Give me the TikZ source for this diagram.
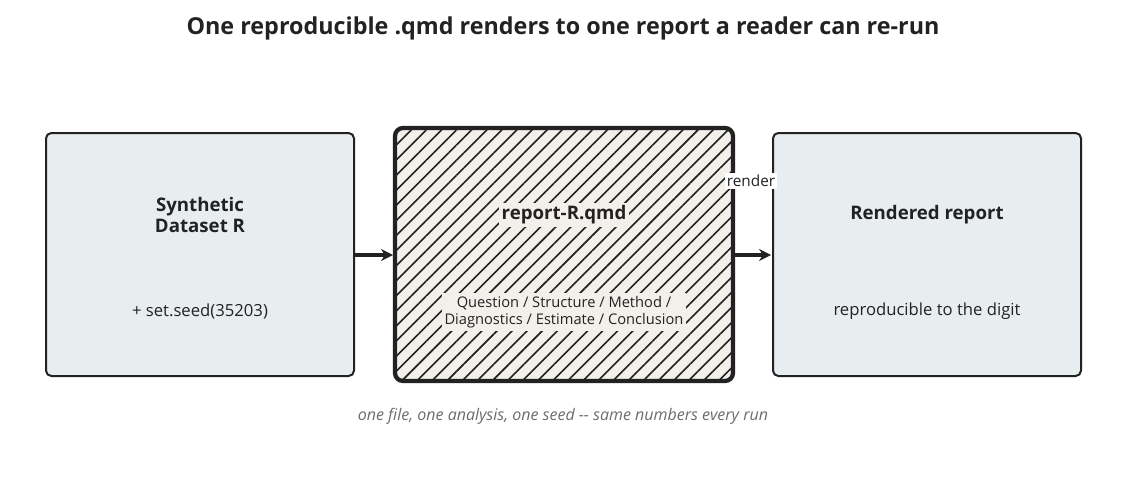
\documentclass[tikz,border=0pt]{standalone}
\usepackage{fontspec}
\setmainfont{Open Sans}
\usetikzlibrary{patterns.meta,arrows.meta}
\definecolor{boxfill}{HTML}{E8EDF0}
\definecolor{beige}{HTML}{F3EFEA}
\definecolor{ink}{HTML}{222222}
\begin{document}
\begin{tikzpicture}[x=0.75pt,y=-0.75pt,
  side/.style={draw=ink,line width=1.5pt,rounded corners=4pt,fill=boxfill},
  ttl/.style={font=\fontsize{14}{16}\selectfont\bfseries,align=center,text=ink},
  body/.style={font=\fontsize{12.5}{14}\selectfont,align=center,text=ink}]
\useasboundingbox (0,0) rectangle (1126,496);
\node[font=\fontsize{17.5}{20}\selectfont\bfseries,text=ink] (title) at (563,28) {One reproducible .qmd renders to one report a reader can re-run};
\path[side] (46,133) rectangle (354,376);
\coordinate (L) at (354,255);
\node[ttl] (t1) at (200,215) {Synthetic\\Dataset R};
\node[body] (b1) at (200,311) {+ set.seed(35203)};
\path[fill=beige,rounded corners=6pt] (395,128) rectangle (733,381);
\path[pattern={Lines[angle=45,distance=8pt,line width=1.2pt]},pattern color=ink,rounded corners=6pt] (395,128) rectangle (733,381);
\draw[ink,line width=3.2pt,rounded corners=6pt] (395,128) rectangle (733,381);
\coordinate (ML) at (393,255);
\coordinate (MR) at (735,255);
\node[ttl,fill=beige,inner sep=2pt] (t2) at (564,215) {report-R.qmd};
\node[font=\fontsize{11}{13}\selectfont,align=center,text=ink,fill=beige,inner sep=2pt] (b2) at (564,312) {Question / Structure / Method /\\Diagnostics / Estimate / Conclusion};
\path[side] (773,133) rectangle (1081,376);
\coordinate (R) at (771,255);
\node[ttl] (t3) at (927,215) {Rendered report};
\node[body] (b3) at (927,311) {reproducible to the digit};
\draw[draw=ink,line width=2.4pt,-{Stealth[length=9pt,width=9pt]}] (L) -- (ML);
\draw[draw=ink,line width=2.4pt,-{Stealth[length=9pt,width=9pt]}] (MR) -- (R);
\node[fill=white,font=\fontsize{11.5}{13}\selectfont,text=ink,inner sep=1.5pt] (rl) at (751,181) {render};
\node[font=\fontsize{12}{14}\selectfont\itshape,text=gray!85!black] (cap) at (563,416) {one file, one analysis, one seed {-}{-} same numbers every run};
\end{tikzpicture}
\end{document}
